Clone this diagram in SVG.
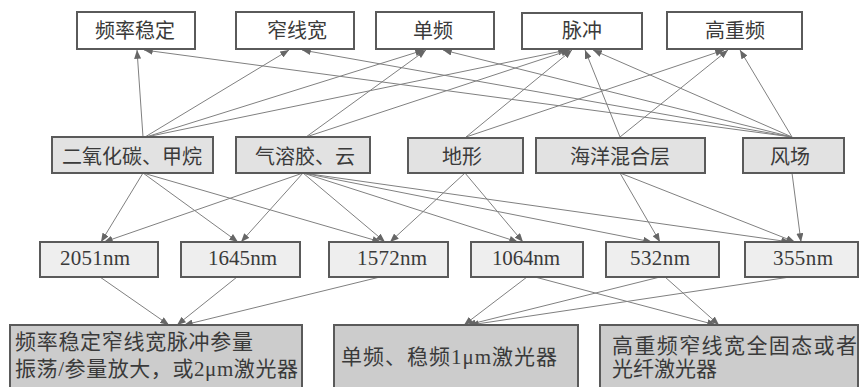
<svg xmlns="http://www.w3.org/2000/svg" width="861" height="387" viewBox="0 0 861 387">
<style>
.box{stroke:#5a5a5a;stroke-width:2}
.t1{fill:#ffffff}
.t2{fill:#e2e2e2}
.t3{fill:#eeeeee}
.t4{fill:#cccccc}
text{font-family:"Liberation Serif","Noto Sans CJK SC",serif;fill:#3a3a3a}
.cj{font-size:20px}
.nm{font-size:21px}
.bt{font-size:21px}
#edges line{stroke:#808080;stroke-width:1;fill:none;marker-end:url(#ah)}
</style>
<defs>
<marker id="ah" viewBox="0 0 10 8" refX="10" refY="4" markerWidth="9" markerHeight="7" orient="auto" markerUnits="userSpaceOnUse">
<path d="M0,0 L10,4 L0,8 z" fill="#666666"/>
</marker>
</defs>
<rect width="861" height="387" fill="#ffffff"/>

<g id="edges">
<!-- middle to top -->
<line x1="143" y1="137" x2="137" y2="50"/>
<line x1="145" y1="137" x2="289" y2="50"/>
<line x1="146" y1="137" x2="424" y2="50"/>
<line x1="146" y1="137" x2="567" y2="50"/>
<line x1="306" y1="137" x2="426" y2="50"/>
<line x1="306" y1="137" x2="570" y2="50"/>
<line x1="466" y1="137" x2="572" y2="50"/>
<line x1="466" y1="137" x2="724" y2="50"/>
<line x1="620" y1="137" x2="585" y2="50"/>
<line x1="620" y1="137" x2="728" y2="50"/>
<line x1="792" y1="137" x2="144" y2="50"/>
<line x1="792" y1="137" x2="302" y2="50"/>
<line x1="792" y1="137" x2="443" y2="50"/>
<line x1="792" y1="137" x2="593" y2="50"/>
<line x1="792" y1="137" x2="740" y2="50"/>
<!-- middle to third -->
<line x1="143" y1="173" x2="101" y2="242"/>
<line x1="143" y1="173" x2="238" y2="242"/>
<line x1="143" y1="173" x2="381" y2="242"/>
<line x1="303" y1="173" x2="104" y2="242"/>
<line x1="303" y1="173" x2="241" y2="242"/>
<line x1="303" y1="173" x2="385" y2="242"/>
<line x1="303" y1="173" x2="518" y2="242"/>
<line x1="303" y1="173" x2="652" y2="242"/>
<line x1="303" y1="173" x2="790" y2="242"/>
<line x1="465" y1="173" x2="390" y2="242"/>
<line x1="465" y1="173" x2="523" y2="242"/>
<line x1="620" y1="173" x2="660" y2="242"/>
<line x1="620" y1="173" x2="795" y2="242"/>
<line x1="792" y1="173" x2="801" y2="242"/>
<!-- third to bottom -->
<line x1="100" y1="277" x2="169" y2="325"/>
<line x1="237" y1="277" x2="177" y2="325"/>
<line x1="380" y1="277" x2="184" y2="325"/>
<line x1="527" y1="277" x2="464" y2="325"/>
<line x1="535" y1="277" x2="716" y2="325"/>
<line x1="660" y1="277" x2="467" y2="325"/>
<line x1="665" y1="277" x2="719" y2="325"/>
<line x1="790" y1="277" x2="470" y2="325"/>
</g>

<!-- top row -->
<g id="n-pinlvwending"><rect class="box t1" x="77" y="12" width="118" height="37"/><text class="cj" x="95" y="38">频率稳定</text></g>
<g id="n-zhaixiankuan"><rect class="box t1" x="236" y="12" width="118" height="37"/><text class="cj" x="267" y="38">窄线宽</text></g>
<g id="n-danpin"><rect class="box t1" x="376" y="12" width="118" height="37"/><text class="cj" x="413" y="38">单频</text></g>
<g id="n-maichong"><rect class="box t1" x="522" y="13" width="120" height="36"/><text class="cj" x="562" y="38">脉冲</text></g>
<g id="n-gaochongpin"><rect class="box t1" x="667" y="12" width="135" height="37"/><text class="cj" x="705" y="38">高重频</text></g>

<!-- middle row -->
<g id="n-co2"><rect class="box t2" x="52" y="137" width="161" height="36"/><text class="cj" x="62" y="164">二氧化碳、甲烷</text></g>
<g id="n-aerosol"><rect class="box t2" x="236" y="137" width="134" height="36"/><text class="cj" x="255" y="164">气溶胶、云</text></g>
<g id="n-terrain"><rect class="box t2" x="408" y="138" width="115" height="35"/><text class="cj" x="442" y="164">地形</text></g>
<g id="n-ocean"><rect class="box t2" x="536" y="138" width="169" height="35"/><text class="cj" x="570" y="164">海洋混合层</text></g>
<g id="n-wind"><rect class="box t2" x="743" y="138" width="101" height="35"/><text class="cj" x="770" y="164">风场</text></g>

<!-- third row -->
<g id="n-2051"><rect class="box t3" x="40" y="242" width="118" height="35"/><text class="nm" x="60" y="265" textLength="70">2051nm</text></g>
<g id="n-1645"><rect class="box t3" x="181" y="242" width="119" height="35"/><text class="nm" x="208" y="265" textLength="69">1645nm</text></g>
<g id="n-1572"><rect class="box t3" x="329" y="242" width="119" height="35"/><text class="nm" x="357" y="265" textLength="70">1572nm</text></g>
<g id="n-1064"><rect class="box t3" x="471" y="242" width="112" height="35"/><text class="nm" x="492" y="265" textLength="68">1064nm</text></g>
<g id="n-532"><rect class="box t3" x="606" y="242" width="113" height="35"/><text class="nm" x="630" y="265" textLength="60">532nm</text></g>
<g id="n-355"><rect class="box t3" x="745" y="242" width="113" height="35"/><text class="nm" x="773" y="265" textLength="60">355nm</text></g>

<!-- bottom row -->
<g id="n-opo"><rect class="box t4" x="10" y="325" width="292" height="68"/>
<text class="bt" x="15" y="349" textLength="238">频率稳定窄线宽脉冲参量</text>
<text class="bt" x="15" y="376" textLength="283">振荡/参量放大，或2μm激光器</text></g>
<g id="n-1um"><rect class="box t4" x="334" y="325" width="244" height="68"/>
<text class="bt" x="341" y="364" textLength="216">单频、稳频1μm激光器</text></g>
<g id="n-fiber"><rect class="box t4" x="600" y="325" width="258" height="68"/>
<text class="bt" x="612" y="353" textLength="245">高重频窄线宽全固态或者</text>
<text class="bt" x="612" y="376" textLength="105">光纤激光器</text></g>
</svg>
